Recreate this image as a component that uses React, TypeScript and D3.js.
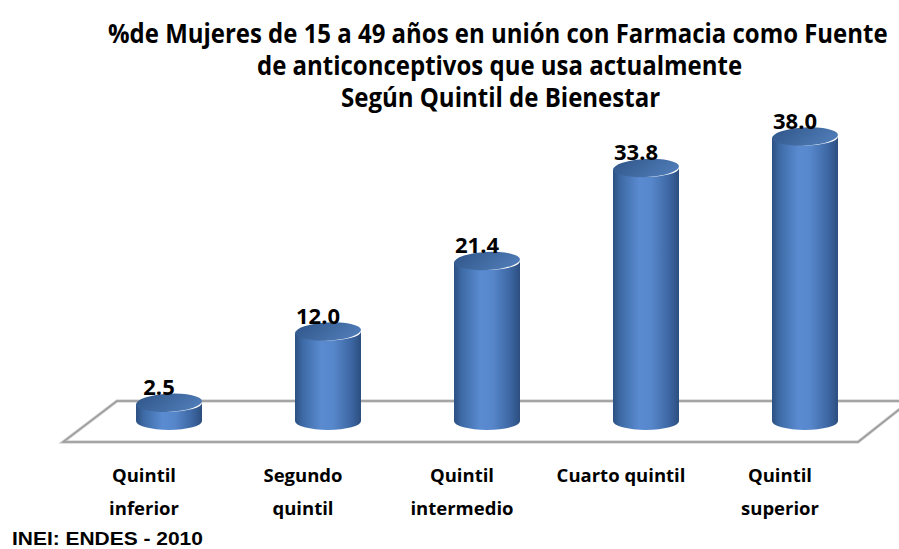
import React, { useLayoutEffect, useRef, useState } from "react";
import * as d3 from "d3";

const titleLines = [
  "%de Mujeres de 15 a 49 años en unión con Farmacia como Fuente",
  "de anticonceptivos que usa actualmente",
  "Según Quintil de Bienestar",
];
const categories = ["Quintil inferior", "Segundo quintil", "Quintil intermedio", "Cuarto quintil", "Quintil superior"];
const categoryLines = [
  ["Quintil", "inferior"],
  ["Segundo", "quintil"],
  ["Quintil", "intermedio"],
  ["Cuarto quintil"],
  ["Quintil", "superior"],
];
const values = [2.5, 12.0, 21.4, 33.8, 38.0];
const source = "INEI: ENDES - 2010";

const W = 899;
const H = 549;

export default function App() {
  const x = d3.scalePoint<string>().domain(categories).range([169, 805]);
  const y = d3.scaleLinear().domain([0, 38]).range([421.5, 136.5]);
  const rx = 33;
  const ry = 9;
  const baseY = 421;

  const floor =
    d3.line()([
      [117, 401],
      [910, 401],
      [858, 442],
      [63, 442],
    ]) + "Z";

  const titleX = [108, 257, 341];
  const titleW = [779, 485, 319];
  const titleBase = [43, 75, 107];

  const refs = useRef<(SVGTextElement | null)[]>([]);
  const srcRef = useRef<SVGTextElement | null>(null);
  const [scales, setScales] = useState<number[]>([0.85, 0.85, 0.85]);
  const [srcScale, setSrcScale] = useState<number>(1);

  useLayoutEffect(() => {
    const s = refs.current.map((el, i) => {
      if (!el) return 1;
      const w = el.getComputedTextLength();
      return w > 0 ? titleW[i] / w : 1;
    });
    setScales(s);
    if (srcRef.current) {
      const w = srcRef.current.getComputedTextLength();
      if (w > 0) setSrcScale(191 / w);
    }
  }, []);

  return (
    <svg
      width={W}
      height={H}
      viewBox={`0 0 ${W} ${H}`}
      style={{ position: "absolute", left: 0, top: 0, background: "#fff" }}
    >
      <defs>
        <linearGradient id="body" x1="0" x2="1" y1="0" y2="0">
          <stop offset="0%" stopColor="#2c5082" />
          <stop offset="12%" stopColor="#3e6ba6" />
          <stop offset="40%" stopColor="#5a8bd1" />
          <stop offset="58%" stopColor="#5787cb" />
          <stop offset="85%" stopColor="#3d67a3" />
          <stop offset="100%" stopColor="#2c4e7f" />
        </linearGradient>
        <linearGradient id="top" x1="0" x2="1" y1="0" y2="0.4">
          <stop offset="0%" stopColor="#30568a" />
          <stop offset="60%" stopColor="#416ba2" />
          <stop offset="100%" stopColor="#4d79b4" />
        </linearGradient>
      </defs>
      <rect width={W} height={H} fill="#fff" />
      {titleLines.map((t, i) => (
        <g key={i} transform={`translate(${titleX[i]},${titleBase[i]}) scale(${scales[i]},1)`}>
          <text
            ref={(el) => {
              refs.current[i] = el;
            }}
            x={0}
            y={0}
            fontFamily="'Open Sans', sans-serif"
            fontWeight="bold"
            fontSize={26}
            fill="#000"
          >
            {t}
          </text>
        </g>
      ))}
      <path d={floor} fill="#fff" stroke="#c4c4c4" strokeWidth={3} />
      <path d={floor} fill="none" stroke="#9a9a9a" strokeWidth={1.3} />
      {categories.map((c, i) => {
        const cx = x(c) as number;
        const yt = y(values[i]);
        const d =
          `M${cx - rx},${yt} L${cx - rx},${baseY} ` +
          `A${rx},${ry} 0 0 0 ${cx + rx},${baseY} ` +
          `L${cx + rx},${yt} A${rx},${ry} 0 0 1 ${cx - rx},${yt} Z`;
        return (
          <g key={c}>
            <path d={d} fill="url(#body)" />
            <ellipse
              cx={cx}
              cy={yt}
              rx={rx}
              ry={ry}
              fill="url(#top)"
              transform={`rotate(-3 ${cx} ${yt})`}
            />
            <text
              x={cx - 10}
              y={yt - ry + 1}
              textAnchor="middle"
              fontFamily="'Open Sans', sans-serif"
              fontWeight="bold"
              fontSize={22}
              fill="#000"
            >
              {values[i].toFixed(1)}
            </text>
            {categoryLines[i].map((ln, j) => (
              <text
                key={j}
                x={cx - 25}
                y={482 + j * 33}
                textAnchor="middle"
                fontFamily="'Open Sans', sans-serif"
                fontWeight="bold"
                fontSize={18.5}
                fill="#000"
              >
                {ln}
              </text>
            ))}
          </g>
        );
      })}
      <g transform={`translate(12,545) scale(${srcScale},1)`}>
        <text
          ref={srcRef}
          x={0}
          y={0}
          fontFamily="'Liberation Sans', Arial, sans-serif"
          fontWeight="bold"
          fontSize={18}
          fill="#000"
        >
          {source}
        </text>
      </g>
    </svg>
  );
}
